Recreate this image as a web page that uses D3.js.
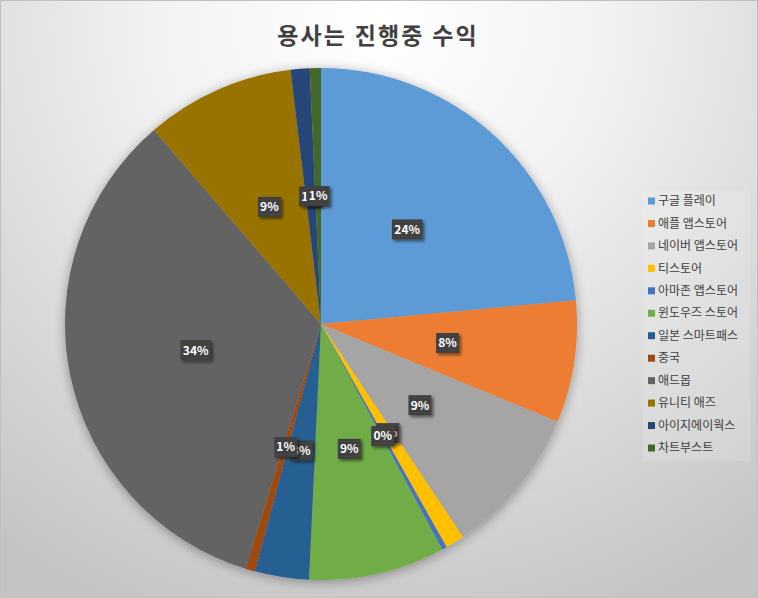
<!DOCTYPE html>
<html><head><meta charset="utf-8">
<script src="https://cdn.jsdelivr.net/npm/d3@7"></script>
<style>body{margin:0;padding:0;overflow:hidden;background:#fff}</style>
</head><body>
<svg id="chart" width="758" height="598"></svg>
<script>
const title = "용사는 진행중 수익";
const categories = ["구글 플레이","애플 앱스토어","네이버 앱스토어","티스토어","아마존 앱스토어","윈도우즈 스토어","일본 스마트패스","중국","애드몹","유니티 애즈","아이지에이웍스","차트부스트"];
const values = [23.5, 7.7, 9.4, 1.2, 0.3, 8.6, 3.4, 0.6, 33.9, 9.4, 1.2, 0.7];
const colors = ["#5B9BD5","#ED7D31","#A5A5A5","#FFC000","#4472C4","#70AD47","#255E91","#9E480E","#636363","#997300","#264478","#43682B"];

const W = 758, H = 598;
const svg = d3.select("#chart");
const defs = svg.append("defs");
const font = "'Noto Sans CJK KR','Noto Sans',sans-serif";

const bg = defs.append("radialGradient").attr("id","bg")
  .attr("gradientUnits","userSpaceOnUse").attr("cx",380).attr("cy",20).attr("r",640).attr("fx",380).attr("fy",20);
bg.append("stop").attr("offset","0%").attr("stop-color","#ffffff");
bg.append("stop").attr("offset","35%").attr("stop-color","#f2f2f2");
bg.append("stop").attr("offset","100%").attr("stop-color","#c4c4c4");

const sh = defs.append("filter").attr("id","pieShadow").attr("x","-20%").attr("y","-20%").attr("width","140%").attr("height","140%");
sh.append("feGaussianBlur").attr("in","SourceAlpha").attr("stdDeviation",6).attr("result","b");
sh.append("feOffset").attr("in","b").attr("dx",0).attr("dy",2).attr("result","o");
sh.append("feComponentTransfer").attr("in","o").attr("result","o2").append("feFuncA").attr("type","linear").attr("slope",0.35);
const m = sh.append("feMerge"); m.append("feMergeNode").attr("in","o2"); m.append("feMergeNode").attr("in","SourceGraphic");

const lsh = defs.append("filter").attr("id","lblShadow").attr("x","-30%").attr("y","-30%").attr("width","170%").attr("height","170%");
lsh.append("feGaussianBlur").attr("in","SourceAlpha").attr("stdDeviation",1.5).attr("result","b");
lsh.append("feOffset").attr("in","b").attr("dx",2).attr("dy",2).attr("result","o");
lsh.append("feComponentTransfer").attr("in","o").attr("result","o2").append("feFuncA").attr("type","linear").attr("slope",0.5);
const m2 = lsh.append("feMerge"); m2.append("feMergeNode").attr("in","o2"); m2.append("feMergeNode").attr("in","SourceGraphic");

const pat = defs.append("pattern").attr("id","dots").attr("width",3).attr("height",3).attr("patternUnits","userSpaceOnUse");
pat.append("rect").attr("width",3).attr("height",3).attr("fill","#404040");
pat.append("rect").attr("x",1).attr("y",1).attr("width",1).attr("height",1).attr("fill","#4d4d4d");

svg.append("rect").attr("x",0.5).attr("y",0.5).attr("width",W-1).attr("height",H-1)
  .attr("fill","url(#bg)").attr("stroke","#bfbfbf");

svg.append("text").attr("x",378).attr("y",44).attr("text-anchor","middle")
  .attr("font-family",font).attr("font-weight","bold").attr("font-size",23)
  .attr("letter-spacing",2.2)
  .attr("fill","#404040").text(title);

const cx = 321, cy = 324, R = 256;
const total = d3.sum(values);
const data = categories.map((c,i)=>({name:c, value:values[i], color:colors[i]}));
const pie = d3.pie().value(d=>d.value).sort(null);
const arcs = pie(data);
const arc = d3.arc().innerRadius(0).outerRadius(R);
const lblArc = d3.arc().innerRadius(R*0.5).outerRadius(R*0.5);

const g = svg.append("g").attr("transform",`translate(${cx},${cy})`);
g.append("g").attr("filter","url(#pieShadow)").selectAll("path").data(arcs).join("path")
  .attr("d",arc).attr("fill",d=>d.data.color);

const lg = g.append("g");
arcs.forEach(a=>{
  const [x,y] = lblArc.centroid(a);
  const txt = Math.round(a.data.value/total*100) + "%";
  const w = txt.length*7.5 + 8, h = 20;
  const gg = lg.append("g").attr("transform",`translate(${x},${y})`);
  gg.append("rect").attr("x",-w/2).attr("y",-h/2).attr("width",w).attr("height",h)
    .attr("fill","url(#dots)").attr("filter","url(#lblShadow)");
  gg.append("text").attr("text-anchor","middle").attr("dy","0.36em")
    .attr("font-family",font).attr("font-weight","bold").attr("font-size",12)
    .attr("fill","#ffffff").text(txt);
});

const leg = svg.append("g");
leg.append("rect").attr("x",643).attr("y",191).attr("width",107).attr("height",270).attr("fill","#ffffff").attr("opacity",0.15);
const ly = d3.scalePoint().domain(categories).range([201,448]);
categories.forEach((c,i)=>{
  const y = ly(c);
  leg.append("rect").attr("x",648).attr("y",y-3.5).attr("width",7).attr("height",7).attr("fill",colors[i]);
  leg.append("text").attr("x",658).attr("y",y).attr("dy","0.35em")
    .attr("font-family",font).attr("font-size",12).attr("fill","#404040").text(c);
});
</script>
</body></html>
